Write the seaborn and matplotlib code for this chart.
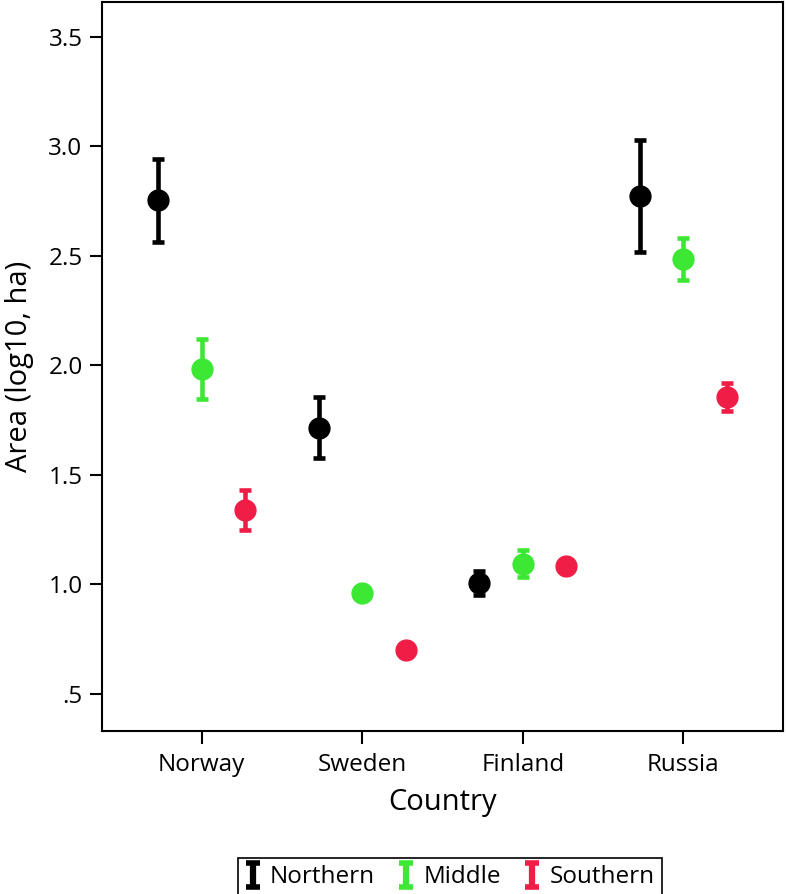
import numpy as np
import pandas as pd
import matplotlib
matplotlib.use("Agg")
import matplotlib.pyplot as plt
import seaborn as sns

countries = ["Norway", "Sweden", "Finland", "Russia"]
regions = ["Northern", "Middle", "Southern"]

# mean area (log10, ha), one value per country
northern_mean = [2.755, 1.715, 1.005, 2.775]
middle_mean = [1.985, 0.960, 1.095, 2.485]
southern_mean = [1.340, 0.698, 1.085, 1.855]

# half length of the error bars
northern_err = [0.190, 0.140, 0.055, 0.255]
middle_err = [0.137, 0.020, 0.060, 0.095]
southern_err = [0.092, 0.020, 0.020, 0.064]

ytick_values = [0.5, 1.0, 1.5, 2.0, 2.5, 3.0, 3.5]
ytick_labels = [".5", "1.0", "1.5", "2.0", "2.5", "3.0", "3.5"]

region_colors = ["#000000", "#3CE834", "#F01E46"]

# each group gets two values (mean - err, mean + err): the mean is the point,
# and the 100% interval gives the error bar
rows = []
for region, means, errs in zip(regions,
                               [northern_mean, middle_mean, southern_mean],
                               [northern_err, middle_err, southern_err]):
    for country, m, e in zip(countries, means, errs):
        rows.append({"Country": country, "Region": region, "Area": m - e})
        rows.append({"Country": country, "Region": region, "Area": m + e})
df = pd.DataFrame(rows)

sns.set_style("ticks")
plt.rcParams["font.family"] = ["Open Sans", "DejaVu Sans"]
plt.rcParams["text.color"] = "black"
plt.rcParams["axes.labelcolor"] = "black"
plt.rcParams["xtick.color"] = "black"
plt.rcParams["ytick.color"] = "black"

fig = plt.figure(figsize=(7.86, 8.94), dpi=100)
ax = fig.add_axes([102 / 786, 1 - 731 / 894, 681 / 786, 729 / 894])

sns.pointplot(data=df, x="Country", y="Area", hue="Region",
              order=countries, hue_order=regions,
              palette=region_colors, estimator="mean",
              errorbar=("pi", 100), dodge=0.54, linestyle="none",
              markers="o", markersize=15, markeredgewidth=1,
              capsize=0.075,
              err_kws={"linewidth": 3.3, "solid_capstyle": "butt"},
              legend=False, ax=ax)

ax.set_xlim(-0.62, 3.62)
ax.set_ylim(0.33, 3.66)
ax.set_yticks(ytick_values)
ax.set_yticklabels(ytick_labels)

for side in ["top", "right", "left", "bottom"]:
    ax.spines[side].set_visible(True)
    ax.spines[side].set_linewidth(1.5)
    ax.spines[side].set_color("black")

ax.tick_params(axis="both", direction="out", length=9, width=1.5,
               color="black", labelcolor="black", labelsize=17.5, pad=5)
ax.tick_params(axis="x", labelsize=17.5, pad=7)

ax.set_xlabel("Country", fontsize=21, labelpad=8)
ax.set_ylabel("Area (log10, ha)", fontsize=21, labelpad=10)

# legend with error bar icons
handles = []
for region, c in zip(regions, region_colors):
    h = ax.errorbar([np.nan], [np.nan], yerr=[0.1], fmt="none", ecolor=c,
                    elinewidth=4.5, capsize=5, capthick=4, label=region)
    handles.append(h)

leg = fig.legend(handles=handles, labels=regions, loc="upper center",
                 bbox_to_anchor=(450 / 786, 1 - 846 / 894), ncol=3,
                 frameon=True, fancybox=False, edgecolor="black",
                 framealpha=1, fontsize=17.5, handlelength=0.6,
                 handletextpad=0.4, columnspacing=1.0, borderpad=0.3)
leg.get_frame().set_linewidth(1.2)

fig.savefig("out.png", dpi=100)
